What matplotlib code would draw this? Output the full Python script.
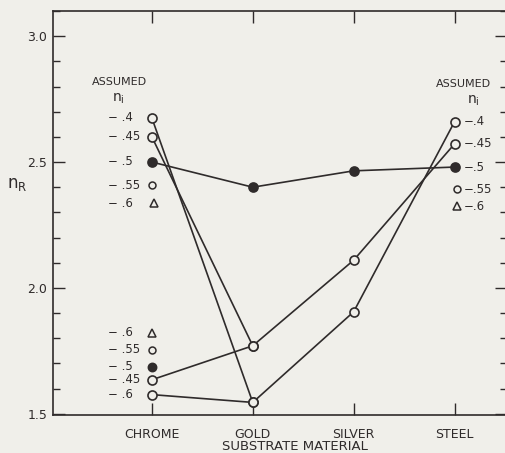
import matplotlib
matplotlib.use("Agg")
import matplotlib.pyplot as plt
from matplotlib.ticker import MultipleLocator
import numpy as np

# data
categories = ["CHROME", "GOLD", "SILVER", "STEEL"]
ni_040 = [2.675, 1.545, 1.905, 2.66]
ni_045 = [2.60, 1.77, 2.11, 2.572]
ni_050 = [2.50, 2.40, 2.465, 2.48]
# second (low) solutions at chrome, joined to gold
low_045 = [1.635, 1.77]
low_060 = [1.576, 1.545]

ink = "#2f2b2b"
bg = "#f0efea"

plt.rcParams["font.family"] = ["DejaVu Sans"]

fig = plt.figure(figsize=(5.05, 4.53), dpi=100, facecolor=bg)
ax = fig.add_axes([53/505, 38/453, 454/505, 404/453], facecolor=bg)

x = np.arange(1, len(categories) + 1)


def px(xp, yp):
    # reference pixel -> data coords (layout helper for the hand lettering)
    return 1 + (xp - 152) / 101.0, 1.5 + (413 - yp) / 251.0


open_kw = dict(marker="o", ms=6.5, mfc=bg, mec=ink, mew=1.2, color=ink, lw=1.2)
fill_kw = dict(marker="o", ms=6.5, mfc=ink, mec=ink, mew=1.2, color=ink, lw=1.2)

ax.plot(x, ni_040, **open_kw, zorder=3)
ax.plot(x, ni_045, **open_kw, zorder=3)
ax.plot(x, ni_050, **fill_kw, zorder=3)
ax.plot(x[:2], low_045, **open_kw, zorder=3)
ax.plot(x[:2], low_060, **open_kw, zorder=3)

ax.set_xlim(0.02, 4.52)
ax.set_ylim(1.495, 3.1)
ax.set_xticks(x)
ax.set_xticklabels(categories, fontsize=9, color=ink)
ax.set_yticks([1.5, 2.0, 2.5, 3.0])
ax.set_yticklabels(["1.5", "2.0", "2.5", "3.0"], fontsize=9, color=ink)
ax.yaxis.set_minor_locator(MultipleLocator(0.1))

ax.tick_params(axis="both", which="major", direction="in", length=8.5,
               width=1.0, color=ink, top=True, right=True)
ax.tick_params(axis="y", which="minor", direction="in", length=5,
               width=1.0, color=ink, right=True)
ax.tick_params(axis="x", which="major", pad=9)
ax.tick_params(axis="y", which="major", pad=4)
ax.tick_params(axis="y", which="major", right=True, labelright=False)

for s in ax.spines.values():
    s.set_color(ink)
    s.set_linewidth(1.2)

fig.text(295/505, 1 - 446/453, "SUBSTRATE MATERIAL", fontsize=9.5,
         color=ink, ha="center", va="center")
fig.text(7/505, 1 - 184/453, r"$\mathregular{n_R}$", fontsize=12,
         color=ink, ha="left", va="center")

lbl = dict(fontsize=8.5, color=ink, va="center")

# upper left key
ax.text(*px(120, 82), "ASSUMED", ha="center", fontsize=8, color=ink, va="center")
ax.text(*px(118, 99), r"$\mathregular{n_i}$", ha="center", fontsize=10, color=ink, va="center")
for yp, s in [(118, "− .4"), (137, "− .45"), (161, "− .5"), (185, "− .55"), (203, "− .6")]:
    ax.text(*px(108, yp), s, ha="left", **lbl)
ax.plot(*px(152, 185), marker="o", ms=5, mfc=bg, mec=ink, mew=1.1, ls="none")
ax.plot(*px(154, 203), marker="^", ms=6, mfc=bg, mec=ink, mew=1.1, ls="none")

# lower left key
for yp, s in [(332, "− .6"), (349, "− .55"), (366, "− .5"), (379, "− .45"), (394, "− .6")]:
    ax.text(*px(108, yp), s, ha="left", **lbl)
ax.plot(*px(152, 332), marker="^", ms=6, mfc=bg, mec=ink, mew=1.1, ls="none")
ax.plot(*px(152, 349), marker="o", ms=5, mfc=bg, mec=ink, mew=1.1, ls="none")
ax.plot(*px(152, 366), marker="o", ms=6, mfc=ink, mec=ink, mew=1.1, ls="none")

# right key
ax.text(*px(464, 84), "ASSUMED", ha="center", fontsize=8, color=ink, va="center")
ax.text(*px(474, 101), r"$\mathregular{n_i}$", ha="center", fontsize=10, color=ink, va="center")
for yp, s in [(122, "−.4"), (144, "−.45"), (167, "−.5"), (189, "−.55"), (206, "−.6")]:
    ax.text(*px(464, yp), s, ha="left", **lbl)
ax.plot(*px(457, 189), marker="o", ms=5, mfc=bg, mec=ink, mew=1.1, ls="none")
ax.plot(*px(457, 206), marker="^", ms=6, mfc=bg, mec=ink, mew=1.1, ls="none")

fig.savefig("out.png", dpi=100, facecolor=bg)
